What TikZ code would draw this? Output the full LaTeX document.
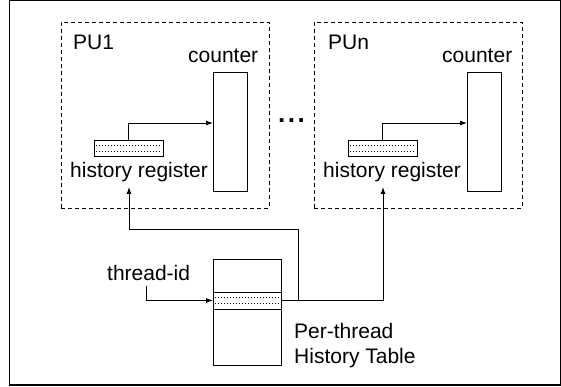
\documentclass[tikz,border=0pt]{standalone}
\usepackage{fontspec}
\setmainfont{Liberation Sans}
\usetikzlibrary{arrows.meta}
\begin{document}
\begin{tikzpicture}[x=1pt,y=-1pt,
  lbl/.style={anchor=base west,inner sep=0pt,font=\fontsize{21}{25}\selectfont},
  pubox/.style={draw,dash pattern=on 4pt off 3pt,line width=0.8pt},
  rbox/.style={draw,line width=0.9pt,inner sep=0pt,outer sep=0pt},
  conn/.style={line width=0.9pt},
  dotrow/.style={dash pattern=on 1pt off 2pt,line width=0.8pt},
  arr/.style={conn,-{Latex[length=7pt,width=5pt]}}]
\useasboundingbox (0,0) rectangle (561,387);
\draw[line width=1.2pt] (9.5,0.6) -- (560.5,0.6) -- (560.5,385) -- (9.5,385) -- cycle;
% PU boxes
\node[pubox,minimum width=208pt,minimum height=186pt] (pubox1) at (165,115) {};
\node[pubox,minimum width=208pt,minimum height=186pt] (puboxn) at (418,115) {};
\node[lbl] (pu1) at (73,50) {PU1};
\node[lbl] (pun) at (328,50) {PUn};
\node[lbl] (c1t) at (188,63) {counter};
\node[lbl] (cnt) at (442,63) {counter};
% counters
\node[rbox,minimum width=34pt,minimum height=119pt] (cnt1) at (230,131.5) {};
\node[rbox,minimum width=34pt,minimum height=119pt] (cntn) at (484,131.5) {};
\coordinate (cnt1in) at (213,123);
\coordinate (cntnin) at (467,123);
% history registers
\node[rbox,minimum width=69pt,minimum height=16pt] (hr1) at (128.5,148) {};
\draw[dotrow] (96,145.5) -- (161,145.5);
\draw[dotrow] (96,151) -- (161,151);
\node[rbox,minimum width=69pt,minimum height=16pt] (hrn) at (382.5,148) {};
\draw[dotrow] (350,145.5) -- (415,145.5);
\draw[dotrow] (350,151) -- (415,151);
\node[lbl] (hrt1) at (70,178) {history register};
\node[lbl] (hrtn) at (323,178) {history register};
\coordinate (hrt1in) at (129,187);
\coordinate (hrtnin) at (383,187);
% dots
\node[anchor=center,inner sep=0pt,font=\fontsize{26}{30}\selectfont\bfseries] (dots) at (291.5,121) {.\hspace{2.5pt}.\hspace{2.5pt}.};
% arrows inside PUs
\draw[arr] (hr1.north) |- (cnt1in);
\draw[arr] (hrn.north) |- (cntnin);
% history table
\node[rbox,minimum width=68pt,minimum height=106pt] (tab) at (247,312) {};
\node[rbox,minimum width=68pt,minimum height=17pt] (row) at (247,300.5) {};
\draw[dotrow] (215,297.5) -- (279,297.5);
\draw[dotrow] (215,303.5) -- (279,303.5);
\coordinate (split) at (298,300.5);
\node[lbl] (tid) at (107,280) {thread-id};
\coordinate (tidout) at (146,286);
\node[lbl] (pt1) at (294,338) {Per-thread};
\node[lbl] (pt2) at (294,363) {History Table};
% connectors
\draw[arr] (tidout) |- (row.west);
\draw[conn] (row.east) -- (split);
\draw[arr] (split) -- (298,229) -| (hrt1in);
\draw[arr] (split) -| (hrtnin);
\end{tikzpicture}
\end{document}
